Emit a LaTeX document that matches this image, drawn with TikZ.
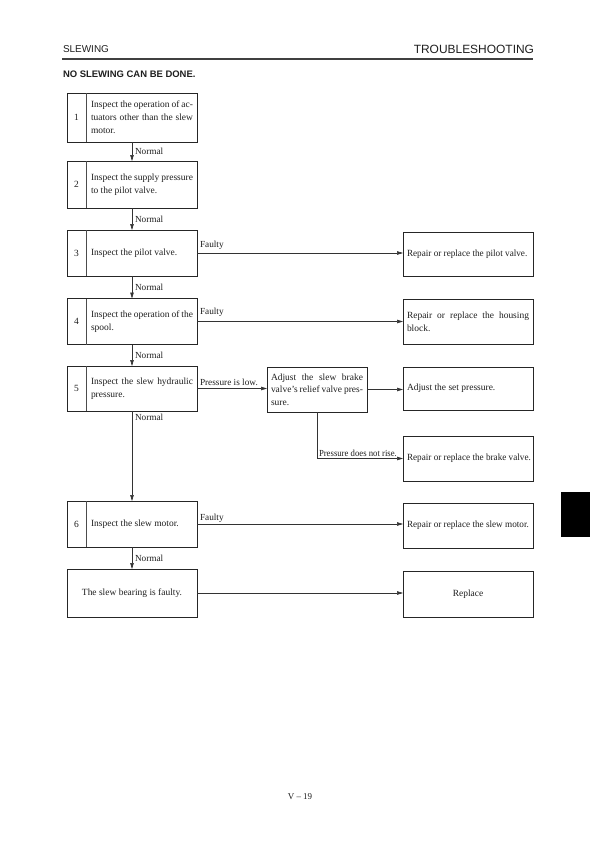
\documentclass[tikz,border=0pt]{standalone}
\usepackage{fontspec}
\setmainfont{Liberation Serif}
\newfontfamily\hsans{Liberation Sans}
\newfontfamily\narrowserif[FakeStretch=0.94]{Liberation Serif}
\newfontfamily\semiserif[FakeStretch=0.97]{Liberation Serif}
\usetikzlibrary{arrows.meta}
\begin{document}
\begin{tikzpicture}[x=1bp,y=-1bp,
  every node/.style={inner sep=0pt, outer sep=0pt, text=black!88},
  box/.style={draw=black!85, line width=1bp, rectangle},
  lbox/.style={box, minimum width=130bp},
  rbox/.style={box, minimum width=130bp},
  divl/.style={draw=black!70, line width=0.7bp},
  num/.style={font=\fontsize{9.5}{13}\selectfont},
  txt/.style={font=\fontsize{9.5}{13}\selectfont, align=justify, text width=102bp, anchor=west},
  rtxt/.style={font=\fontsize{9.5}{13}\selectfont, align=justify, text width=122bp, anchor=west},
  ntxt/.style={font=\semiserif\fontsize{9.5}{13}\selectfont, anchor=west},
  lbl/.style={font=\fontsize{9.3}{11}\selectfont},
  conn/.style={draw=black!80, line width=0.6bp},
  arr/.style={conn, -{Triangle[length=6bp,width=3.5bp]}},
]
\useasboundingbox (0,0) rectangle (595,842);
\fill[white] (0,0) rectangle (595,842);

% header
\node[anchor=west, font=\hsans\fontsize{10}{12}\selectfont] (hl) at (63,49) {SLEWING};
\node[anchor=east, font=\hsans\fontsize{12}{14}\selectfont] (hr) at (534,49) {TROUBLESHOOTING};
\draw[line width=1.2bp, black!75] (62,59) -- (533,59);
\node[anchor=west, font=\hsans\bfseries\fontsize{9.5}{11}\selectfont] (title) at (63,74) {NO SLEWING CAN BE DONE.};

% left boxes
\node[lbox, minimum height=49bp] (b1) at (132,117.5) {};
\draw[divl] ([xshift=19bp]b1.north west) -- ([xshift=19bp]b1.south west);
\node[num] (n1) at ([xshift=9.5bp]b1.west) {1};
\node[txt] (t1) at ([xshift=24bp]b1.west) {Inspect the operation of ac-\linebreak tuators other than the slew\linebreak motor.};

\node[lbox, minimum height=47bp] (b2) at (132,184.5) {};
\draw[divl] ([xshift=19bp]b2.north west) -- ([xshift=19bp]b2.south west);
\node[num] (n2) at ([xshift=9.5bp]b2.west) {2};
\node[txt] (t2) at ([xshift=24bp]b2.west) {Inspect the supply pressure\linebreak to the pilot valve.};

\node[lbox, minimum height=46bp] (b3) at (132,253) {};
\draw[divl] ([xshift=19bp]b3.north west) -- ([xshift=19bp]b3.south west);
\node[num] (n3) at ([xshift=9.5bp]b3.west) {3};
\node[txt] (t3) at ([xshift=24bp]b3.west) {Inspect the pilot valve.};

\node[lbox, minimum height=46bp] (b4) at (132,321.5) {};
\draw[divl] ([xshift=19bp]b4.north west) -- ([xshift=19bp]b4.south west);
\node[num] (n4) at ([xshift=9.5bp]b4.west) {4};
\node[txt] (t4) at ([xshift=24bp]b4.west) {Inspect the operation of the\linebreak spool.};

\node[lbox, minimum height=45bp] (b5) at (132,388.5) {};
\draw[divl] ([xshift=19bp]b5.north west) -- ([xshift=19bp]b5.south west);
\node[num] (n5) at ([xshift=9.5bp]b5.west) {5};
\node[txt] (t5) at ([xshift=24bp]b5.west) {Inspect the slew hydraulic\linebreak pressure.};

\node[lbox, minimum height=46bp] (b6) at (132,524) {};
\draw[divl] ([xshift=19bp]b6.north west) -- ([xshift=19bp]b6.south west);
\node[num] (n6) at ([xshift=9.5bp]b6.west) {6};
\node[txt] (t6) at ([xshift=24bp]b6.west) {Inspect the slew motor.};

\node[lbox, minimum height=48bp, font=\fontsize{9.5}{13}\selectfont] (b7) at (132,593) {The slew bearing is faulty.};

% adjust box
\node[box, minimum width=100bp, minimum height=45bp] (adj) at (317,389.5) {};
\node[font=\fontsize{9.5}{12.5}\selectfont, align=justify, text width=92bp] (tadj) at (adj) {Adjust the slew brake\linebreak valve’s relief valve pres-\linebreak sure.};

% right boxes
\node[rbox, minimum height=44bp] (r3) at (468,254) {};
\node[ntxt] (tr3) at ([xshift=4bp]r3.west) {Repair or replace the pilot valve.};
\node[rbox, minimum height=45bp] (r4) at (468,322) {};
\node[rtxt] (tr4) at ([xshift=4bp]r4.west) {Repair or replace the housing\linebreak block.};
\node[rbox, minimum height=43bp] (rs) at (468,388.5) {};
\node[rtxt] (trs) at ([xshift=4bp]rs.west) {Adjust the set pressure.};
\node[rbox, minimum height=45bp] (rb) at (468,458.5) {};
\node[ntxt] (trb) at ([xshift=4bp]rb.west) {Repair or replace the brake valve.};
\node[rbox, minimum height=45bp] (r6) at (468,525.5) {};
\node[ntxt] (tr6) at ([xshift=4bp]r6.west) {Repair or replace the slew motor.};
\node[rbox, minimum height=46bp, font=\fontsize{9.5}{13}\selectfont] (r7) at (468,594) {Replace};

% vertical connectors
\draw[arr] (b1.south) -- node[lbl, anchor=west, xshift=3bp] (l12) {Normal} (b2.north);
\draw[arr] (b2.south) -- node[lbl, anchor=west, xshift=3bp] (l23) {Normal} (b3.north);
\draw[arr] (b3.south) -- node[lbl, anchor=west, xshift=3bp] (l34) {Normal} (b4.north);
\draw[arr] (b4.south) -- node[lbl, anchor=west, xshift=3bp] (l45) {Normal} (b5.north);
\draw[arr] (b5.south) -- node[lbl, anchor=north west, xshift=3bp, yshift=-3bp, at start] (l56) {Normal} (b6.north);
\draw[arr] (b6.south) -- node[lbl, anchor=west, xshift=3bp] (l67) {Normal} (b7.north);

% horizontal connectors
\draw[arr] (b3.east) -- node[lbl, anchor=south west, xshift=3bp, yshift=4bp, at start] (f3) {Faulty} (b3.east -| r3.west);
\draw[arr] (b4.east) -- node[lbl, anchor=south west, xshift=3bp, yshift=5bp, at start] (f4) {Faulty} (b4.east -| r4.west);
\draw[arr] (b5.east) -- node[lbl, anchor=south west, xshift=3bp, yshift=3bp, at start] (pl) {Pressure is low.} (b5.east -| adj.west);
\draw[arr] (adj.east) -- (adj.east -| rs.west);
\draw[arr] (adj.south) |- node[lbl, font=\narrowserif\fontsize{9.3}{11}\selectfont, anchor=south west, xshift=2bp, yshift=2bp, pos=0.5] (pn) {Pressure does not rise.} (rb.west);
\draw[arr] (b6.east) -- node[lbl, anchor=south west, xshift=3bp, yshift=2bp, at start] (f6) {Faulty} (b6.east -| r6.west);
\draw[arr] (b7.east) -- (b7.east -| r7.west);

% page number and tab
\node[font=\fontsize{9}{11}\selectfont] (pg) at (300,797) {V – 19};
\fill[black] (561,492) rectangle (590,537);
\end{tikzpicture}
\end{document}
